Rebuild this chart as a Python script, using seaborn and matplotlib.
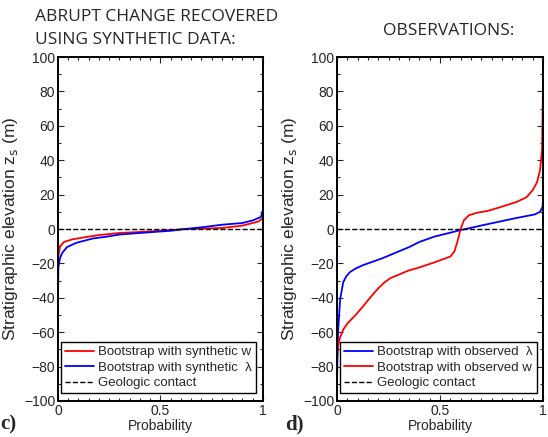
import numpy as np
import pandas as pd
import matplotlib
matplotlib.use("Agg")
import matplotlib.pyplot as plt
from matplotlib.ticker import MultipleLocator
import seaborn as sns

# Panel c: synthetic data
syn_w_p = [0, 0.003, 0.01, 0.03, 0.07, 0.14, 0.2, 0.3, 0.4, 0.55, 0.62, 0.8, 0.9, 0.95, 0.98, 1.0, 1.0]
syn_w_z = [-25, -15, -10, -7.5, -6, -4.6, -3.5, -2.3, -1.7, -0.6, 0, 0.6, 2, 3.5, 4.5, 6.5, 9]
syn_lam_p = [0, 0.002, 0.01, 0.02, 0.044, 0.09, 0.17, 0.24, 0.3, 0.4, 0.55, 0.62, 0.7, 0.8, 0.9, 0.95, 0.99, 1.0]
syn_lam_z = [-40, -22, -17, -14, -10.5, -8, -5.5, -4.4, -3.2, -2.3, -1, 0, 1, 2.5, 3.5, 5, 7, 11]

# Panel d: observations
obs_lam_p = [0, 0.005, 0.015, 0.03, 0.045, 0.063, 0.09, 0.126, 0.22, 0.31, 0.35, 0.4, 0.47, 0.6,
             0.71, 0.87, 0.96, 0.985, 0.998, 1.0]
obs_lam_z = [-88, -60, -41, -31, -27.5, -25, -23, -21, -17, -12.5, -10.5, -7.5, -4.5, -0.6,
             2.3, 6.4, 8.5, 10, 13, 20]
obs_w_p = [0, 0.005, 0.015, 0.03, 0.05, 0.09, 0.126, 0.16, 0.2, 0.23, 0.26, 0.3, 0.35, 0.39, 0.47,
           0.55, 0.57, 0.585, 0.6, 0.615, 0.64, 0.68, 0.73, 0.8, 0.87, 0.92, 0.95, 0.97, 0.985,
           0.995, 1.0]
obs_w_z = [-75, -68, -63, -58.5, -55, -50, -45, -40, -34.5, -31, -28.5, -26.5, -24, -22.7, -19.5,
           -16, -13, -7, 0, 5, 8, 9.5, 10.5, 13, 15.7, 18.5, 22.7, 27, 34,
           46, 85]

sns.set_style("ticks")
plt.rcParams['font.family'] = ['Liberation Sans', 'DejaVu Sans']

fig = plt.figure(figsize=(5.48, 4.37), dpi=100)
ax1 = fig.add_axes([0.1058, 0.0824, 0.374, 0.787])
ax2 = fig.add_axes([0.615, 0.0824, 0.376, 0.787])

panels = [
    (ax1, [(syn_w_p, syn_w_z, 'red', 'Bootstrap with synthetic w'),
           (syn_lam_p, syn_lam_z, 'blue', 'Bootstrap with synthetic  λ')]),
    (ax2, [(obs_lam_p, obs_lam_z, 'blue', 'Bootstrap with observed  λ'),
           (obs_w_p, obs_w_z, 'red', 'Bootstrap with observed w')]),
]

for ax, curves in panels:
    for p, z, c, lab in curves:
        df = pd.DataFrame({'p': p, 'z': z})
        sns.lineplot(data=df, x='p', y='z', ax=ax, color=c, lw=1.3, label=lab,
                     sort=False, estimator=None)
    ax.plot([0, 1], [0, 0], 'k--', lw=1, label='Geologic contact')
    ax.set_xlim(0, 1)
    ax.set_ylim(-100, 100)
    ax.set_xticks([0, 0.5, 1])
    ax.set_xticklabels(['0', '0.5', '1'])
    ax.set_yticks(np.arange(-100, 101, 20))
    ax.xaxis.set_minor_locator(MultipleLocator(0.05))
    ax.yaxis.set_minor_locator(MultipleLocator(10))
    ax.tick_params(which='both', direction='in', top=True, right=True, labelsize=10, width=0.8)
    ax.tick_params(which='major', length=4, pad=2)
    ax.tick_params(which='minor', length=2)
    for s in ax.spines.values():
        s.set_linewidth(1.4)
        s.set_color('black')
    ax.set_xlabel('Probability', fontsize=10, labelpad=1)
    ax.set_ylabel('Stratigraphic elevation z$_\\mathrm{s}$ (m)', fontsize=12.5, labelpad=3)
    leg = ax.legend(loc='lower left', bbox_to_anchor=(0.015, 0.022), fontsize=9.5,
                    frameon=True, fancybox=False, edgecolor='black', framealpha=1,
                    handlelength=2.2, handletextpad=0.3, borderpad=0.3, labelspacing=0.25,
                    borderaxespad=0)
    leg.get_frame().set_linewidth(1.0)

title_font = ['Open Sans', 'DejaVu Sans']
fig.text(0.064, 0.962, 'ABRUPT CHANGE RECOVERED', fontsize=12.5, ha='left', va='center',
         family=title_font)
fig.text(0.064, 0.909, 'USING SYNTHETIC DATA:', fontsize=12.5, ha='left', va='center',
         family=title_font)
fig.text(0.818, 0.93, 'OBSERVATIONS:', fontsize=12.5, ha='center', va='center',
         family=title_font)
fig.text(0.0, 0.028, 'c)', fontsize=15, fontweight='bold', family=['Liberation Serif', 'DejaVu Serif'],
         ha='left', va='center')
fig.text(0.52, 0.028, 'd)', fontsize=15, fontweight='bold', family=['Liberation Serif', 'DejaVu Serif'],
         ha='left', va='center')

fig.savefig('out.png', dpi=100)
